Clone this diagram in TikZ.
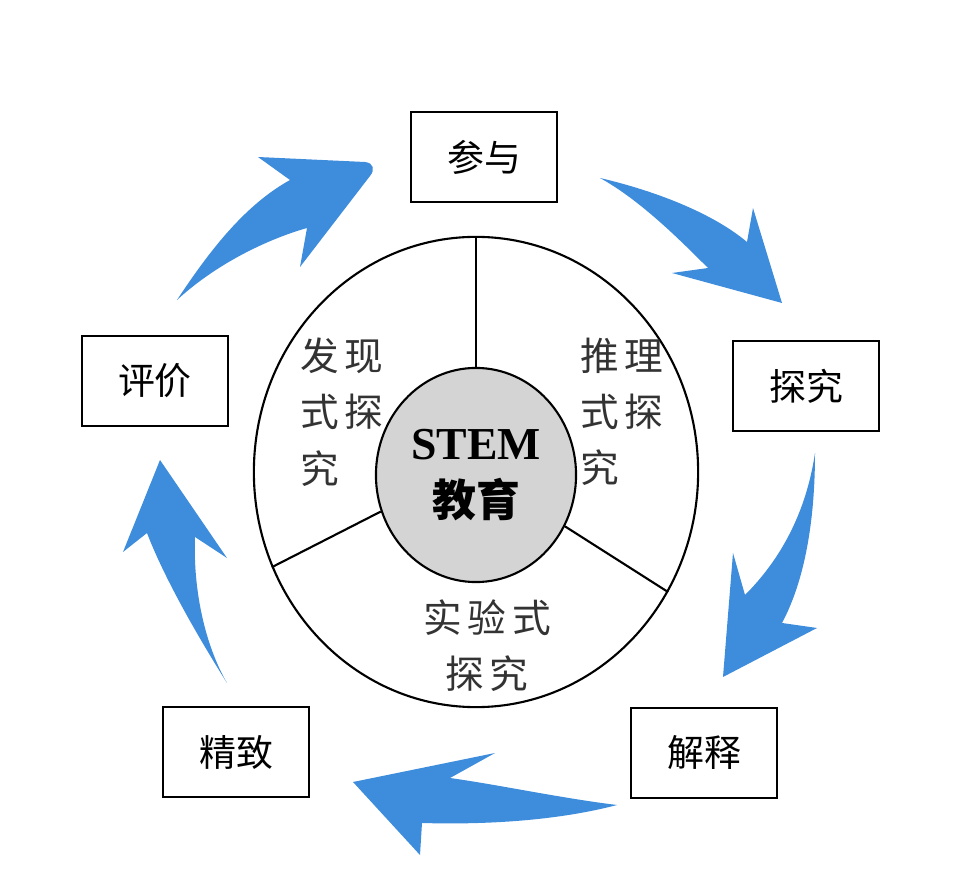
\documentclass[tikz,border=0pt]{standalone}
\usepackage{fontspec}
\setmainfont{Liberation Serif}
\newfontfamily\cjk{Noto Sans CJK SC}
\newfontfamily\cjkseg[LetterSpace=15]{Noto Sans CJK SC}
\usepackage{tikz}
\usetikzlibrary{shapes.geometric, positioning}
\usepackage{xcolor}
\definecolor{swoosh}{RGB}{62,140,220}

\begin{document}
\begin{tikzpicture}[x=0.01cm,y=-0.01cm,
    stage/.style={draw,line width=0.6pt,minimum width=1.46cm,minimum height=0.9cm,inner sep=0pt,font=\cjk\fontsize{10.5}{12}\selectfont},
    seg/.style={text=black!80,inner sep=0pt,font=\cjkseg\fontsize{11}{16}\selectfont}]
    \useasboundingbox (0,0) rectangle (975,870);
    %ring and hub
    \node[draw,ellipse,line width=0.6pt,minimum width=4.44cm,minimum height=4.7cm,inner sep=0pt](ring) at (476,472){};
    \node[draw,ellipse,line width=0.6pt,fill=black!17,minimum width=2cm,minimum height=2.14cm,inner sep=0pt,align=center,font=\bfseries\fontsize{13}{15}\selectfont](hub) at (476,475){STEM\\[1pt]{\cjk\bfseries\fontsize{12.5}{15}\selectfont 教育}};
    \draw[line width=0.6pt](hub.90)--(ring.90);
    \draw[line width=0.6pt](hub.201)--(ring.205);
    \draw[line width=0.6pt](hub.-30)--(ring.-32);
    \node[seg,align=left](faxian) at (342,412){发现\\式探\\究};
    \node[seg,align=left](tuili) at (622,412){推理\\式探\\究};
    \node[seg,align=center](shiyan) at (487,646){实验式\\探究};
    %the five stages
    \node[stage](canyu) at (484,157){参与};
    \node[stage](tanjiu) at (806,386){探究};
    \node[stage](jieshi) at (704,753){解释};
    \node[stage](jingzhi) at (236,752){精致};
    \node[stage](pingjia) at (155,381){评价};
    %swooshes, clockwise
    \def\c{swoosh}
    \fill[\c](177,300)..controls(210,250)and(245,205)..(290,180)--(258,157)--(365,162)..controls(374,163)and(375,170)..(370,176)--(300,267)--(307,228)..controls(265,240)and(215,265)..(177,300)--cycle;
    \fill[\c](600,178)..controls(660,192)and(715,215)..(747,242)--(753,208)--(782,303)--(672,273)--(708,268)..controls(680,240)and(640,200)..(600,178)--cycle;
    \fill[\c](815,453)..controls(815,520)and(805,580)..(782,623)--(817,628)--(723,677)--(733,553)--(745,595)..controls(775,565)and(805,520)..(815,453)--cycle;
    \fill[\c](617,805)..controls(560,798)and(500,785)..(450,778)--(495,753)--(353,782)--(420,855)--(422,823)..controls(490,825)and(560,820)..(617,805)--cycle;
    \fill[\c](227,683)..controls(200,640)and(165,580)..(147,533)--(123,552)--(160,460)--(227,558)--(195,537)..controls(193,590)and(205,645)..(227,683)--cycle;
\end{tikzpicture}
\end{document}
